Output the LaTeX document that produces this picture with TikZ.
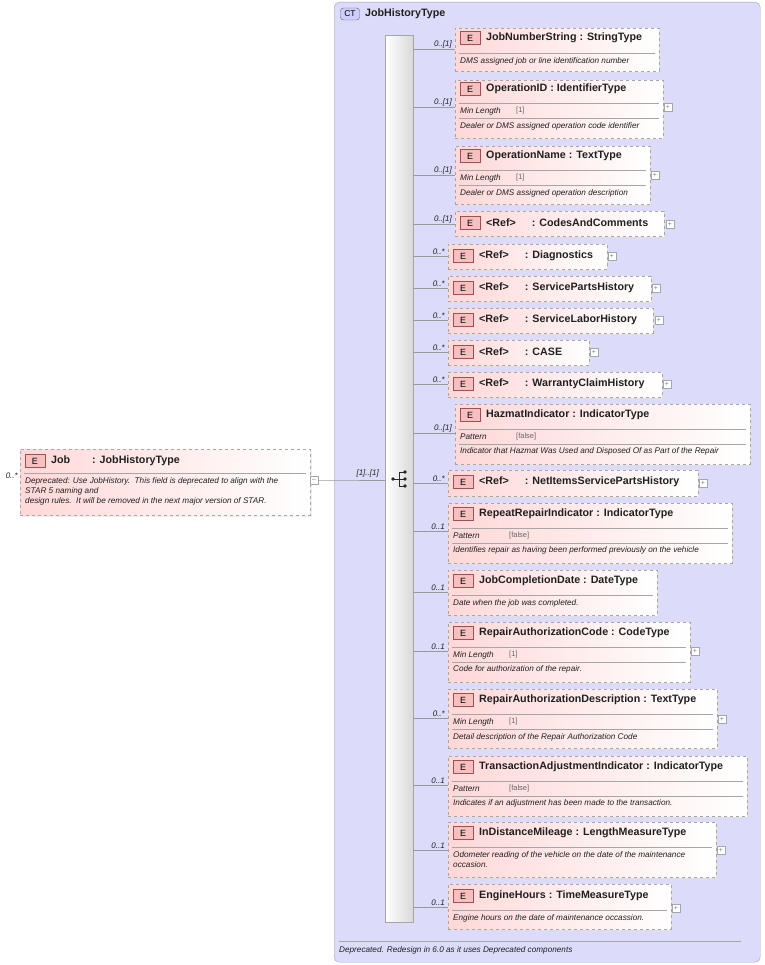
\documentclass[tikz,border=0pt]{standalone}
\usepackage{fontspec}
\setmainfont{Liberation Sans}
\usetikzlibrary{shadows}
\definecolor{ctfill}{HTML}{DCDCFA}
\definecolor{ctborder}{HTML}{A0A0B8}
\definecolor{epink}{HTML}{FFD8D8}
\definecolor{ebadge}{HTML}{F6C0C0}
\definecolor{ebord}{HTML}{A05050}
\definecolor{txt}{HTML}{202020}
\tikzset{
  x=1pt,y=-1pt,
  ebox/.style={draw=gray!70,dashed,inner sep=0,anchor=north west,left color=epink,right color=white,shading angle=90,
     drop shadow={shadow xshift=1.5pt,shadow yshift=-1.5pt,fill=gray!25}},
  badge/.style={draw=ebord,fill=ebadge,minimum width=20,minimum height=13,inner sep=0,font=\fontsize{9}{10}\selectfont},
  ttl/.style={anchor=west,inner sep=0,font=\fontsize{10.7}{12}\selectfont\bfseries,text=txt},
  dsc/.style={anchor=west,inner sep=0,font=\fontsize{8.2}{10}\selectfont\itshape,text=txt,align=left},
  mult/.style={anchor=south east,inner sep=1,font=\fontsize{8}{9}\selectfont\itshape,text=txt},
  conn/.style={draw=gray!80,line width=0.6},
  sepl/.style={draw=gray!70,line width=0.6},
  plusb/.style={draw=gray!70,fill=white,minimum size=8,inner sep=0,font=\fontsize{7}{7}\selectfont,text=gray},
}
\newcommand\Elem[7]{%
  \node[ebox,minimum width={#4-#2},minimum height={#5-#3}] (#1) at (#2,#3) {};
  \node[badge] at (#2+15,#6) {E};
  \node[ttl] at (#2+31,#6) {#7};}
\newcommand\Sepl[3]{\draw[sepl] (#1+4,#3) -- (#2-4,#3);}
\newcommand\Dsc[3]{\node[dsc] at (#1+5,#2) {#3};}
\newcommand\Fct[4]{\node[dsc] at (#1+5,#2) {#3};\node[anchor=west,inner sep=0,font=\fontsize{7.5}{8}\selectfont,text=gray!80!black] at (#1+61,#2) {#4};}
\newcommand\Plus[3]{\node[plusb] (#1) at (#2,#3) {+};}
\newcommand\Con[3]{\draw[conn] (seq.east |- 0,#2) -- (#1.west |- 0,#2);
  \node[mult] at ([xshift=-2pt]#1.west |- 0,#2) {#3};}
\begin{document}
\begin{tikzpicture}
\useasboundingbox (0,0) rectangle (764,965);
% CT box
\node[draw=ctborder,fill=ctfill,rounded corners=5,minimum width=426,minimum height=960,inner sep=0,anchor=north west] (ct) at (334,2) {};
\node[draw=ctborder!60!black,fill=ctfill!60!blue!40,rounded corners=3,minimum width=19,minimum height=12,inner sep=0,font=\fontsize{8.5}{9}\selectfont] (ctb) at (350,14) {CT};
\node[ttl] (ctt) at (365,14) {JobHistoryType};
\draw[sepl] (339,941) -- (741,941);
\node[dsc] (ftr) at (339,950) {Deprecated. Redesign in 6.0 as it uses Deprecated components};
% sequence bar
\node[draw=gray!70,left color=white,right color=gray!30,shading angle=90,minimum width=28,minimum height=887,inner sep=0,anchor=north west] (seq) at (385,35) {};
\coordinate (sym) at (399,479);
\draw[gray!30!black,line width=0.8] (393,479) -- (399,479) (399,472) -- (399,486) (399,472) -- (405,472) (399,486) -- (405,486) (399,479) -- (405,479);
\fill[gray!30!black] (393,479) circle (1.8) (405,472) circle (1.8) (405,479) circle (1.8) (405,486) circle (1.8);
% Job
\Elem{job}{20}{449}{310}{515}{461}{Job\hspace{22pt}: JobHistoryType}
\Sepl{20}{310}{473}
\node[dsc] at (25,491) {Deprecated: Use JobHistory.\ \ This field is deprecated to align with the\\STAR 5 naming and\\design rules.\ \ It will be removed in the next major version of STAR.};
\node[mult,anchor=east] at (19,476) {0..*};
\node[plusb] (jp) at (314,480) {--};
\draw[conn] (jp.east) -- (ct.west |- jp.east) -- (seq.west |- jp.east);
\node[mult] at (380,478) {[1]..[1]};
% elements
\Elem{e1}{455}{28}{659}{71}{38}{JobNumberString : StringType}
\Sepl{455}{659}{53}\Dsc{455}{61}{DMS assigned job or line identification number}
\Con{e1}{49}{0..[1]}
\Elem{e2}{455}{80}{663}{138}{89}{OperationID : IdentifierType}
\Sepl{455}{663}{103}\Fct{455}{111}{Min Length}{[1]}\Sepl{455}{663}{118}\Dsc{455}{126}{Dealer or DMS assigned operation code identifier}
\Plus{p2}{668}{107}\Con{e2}{107}{0..[1]}
\Elem{e3}{455}{146}{650}{204}{156}{OperationName : TextType}
\Sepl{455}{650}{170}\Fct{455}{178}{Min Length}{[1]}\Sepl{455}{650}{185}\Dsc{455}{193}{Dealer or DMS assigned operation description}
\Plus{p3}{655}{175}\Con{e3}{175}{0..[1]}
\Elem{e4}{455}{211}{664}{236}{223}{<Ref>\hspace{16pt}: CodesAndComments}
\Plus{p4}{670}{224}\Con{e4}{224}{0..[1]}
\Elem{e5}{448}{244}{607}{269}{256}{<Ref>\hspace{16pt}: Diagnostics}
\Plus{p5}{612}{256}\Con{e5}{256}{0..*}
\Elem{e6}{448}{276}{651}{301}{288}{<Ref>\hspace{16pt}: ServicePartsHistory}
\Plus{p6}{656}{288}\Con{e6}{288}{0..*}
\Elem{e7}{448}{308}{653}{333}{320}{<Ref>\hspace{16pt}: ServiceLaborHistory}
\Plus{p7}{659}{320}\Con{e7}{320}{0..*}
\Elem{e8}{448}{340}{589}{365}{352}{<Ref>\hspace{16pt}: CASE}
\Plus{p8}{594}{352}\Con{e8}{352}{0..*}
\Elem{e9}{448}{372}{662}{397}{384}{<Ref>\hspace{16pt}: WarrantyClaimHistory}
\Plus{p9}{667}{384}\Con{e9}{384}{0..*}
\Elem{e10}{455}{404}{750}{464}{415}{HazmatIndicator : IndicatorType}
\Sepl{455}{750}{429}\Fct{455}{437}{Pattern}{[false]}\Sepl{455}{750}{444}\Dsc{455}{451}{Indicator that Hazmat Was Used and Disposed Of as Part of the Repair}
\Con{e10}{433}{0..[1]}
\Elem{e11}{448}{470}{698}{496}{482}{<Ref>\hspace{16pt}: NetItemsServicePartsHistory}
\Plus{p11}{703}{483}\Con{e11}{483}{0..*}
\Elem{e12}{448}{503}{732}{563}{514}{RepeatRepairIndicator : IndicatorType}
\Sepl{448}{732}{528}\Fct{448}{536}{Pattern}{[false]}\Sepl{448}{732}{543}\Dsc{448}{550}{Identifies repair as having been performed previously on the vehicle}
\Con{e12}{531}{0..1}
\Elem{e13}{448}{570}{657}{615}{581}{JobCompletionDate : DateType}
\Sepl{448}{657}{595}\Dsc{448}{603}{Date when the job was completed.}
\Con{e13}{592}{0..1}
\Elem{e14}{448}{622}{690}{682}{633}{RepairAuthorizationCode : CodeType}
\Sepl{448}{690}{647}\Fct{448}{655}{Min Length}{[1]}\Sepl{448}{690}{662}\Dsc{448}{669}{Code for authorization of the repair.}
\Plus{p14}{695}{651}\Con{e14}{651}{0..1}
\Elem{e15}{448}{689}{717}{748}{700}{RepairAuthorizationDescription : TextType}
\Sepl{448}{717}{714}\Fct{448}{722}{Min Length}{[1]}\Sepl{448}{717}{729}\Dsc{448}{737}{Detail description of the Repair Authorization Code}
\Plus{p15}{722}{719}\Con{e15}{718}{0..*}
\Elem{e16}{448}{756}{747}{816}{767}{TransactionAdjustmentIndicator : IndicatorType}
\Sepl{448}{747}{781}\Fct{448}{789}{Pattern}{[false]}\Sepl{448}{747}{796}\Dsc{448}{803}{Indicates if an adjustment has been made to the transaction.}
\Con{e16}{785}{0..1}
\Elem{e17}{448}{822}{716}{877}{833}{InDistanceMileage : LengthMeasureType}
\Sepl{448}{716}{847}\node[dsc] at (453,860) {Odometer reading of the vehicle on the date of the maintenance\\occasion.};
\Plus{p17}{721}{850}\Con{e17}{850}{0..1}
\Elem{e18}{448}{884}{671}{929}{896}{EngineHours : TimeMeasureType}
\Sepl{448}{671}{910}\Dsc{448}{918}{Engine hours on the date of maintenance occassion.}
\Plus{p18}{676}{908}\Con{e18}{907}{0..1}
\end{tikzpicture}
\end{document}
